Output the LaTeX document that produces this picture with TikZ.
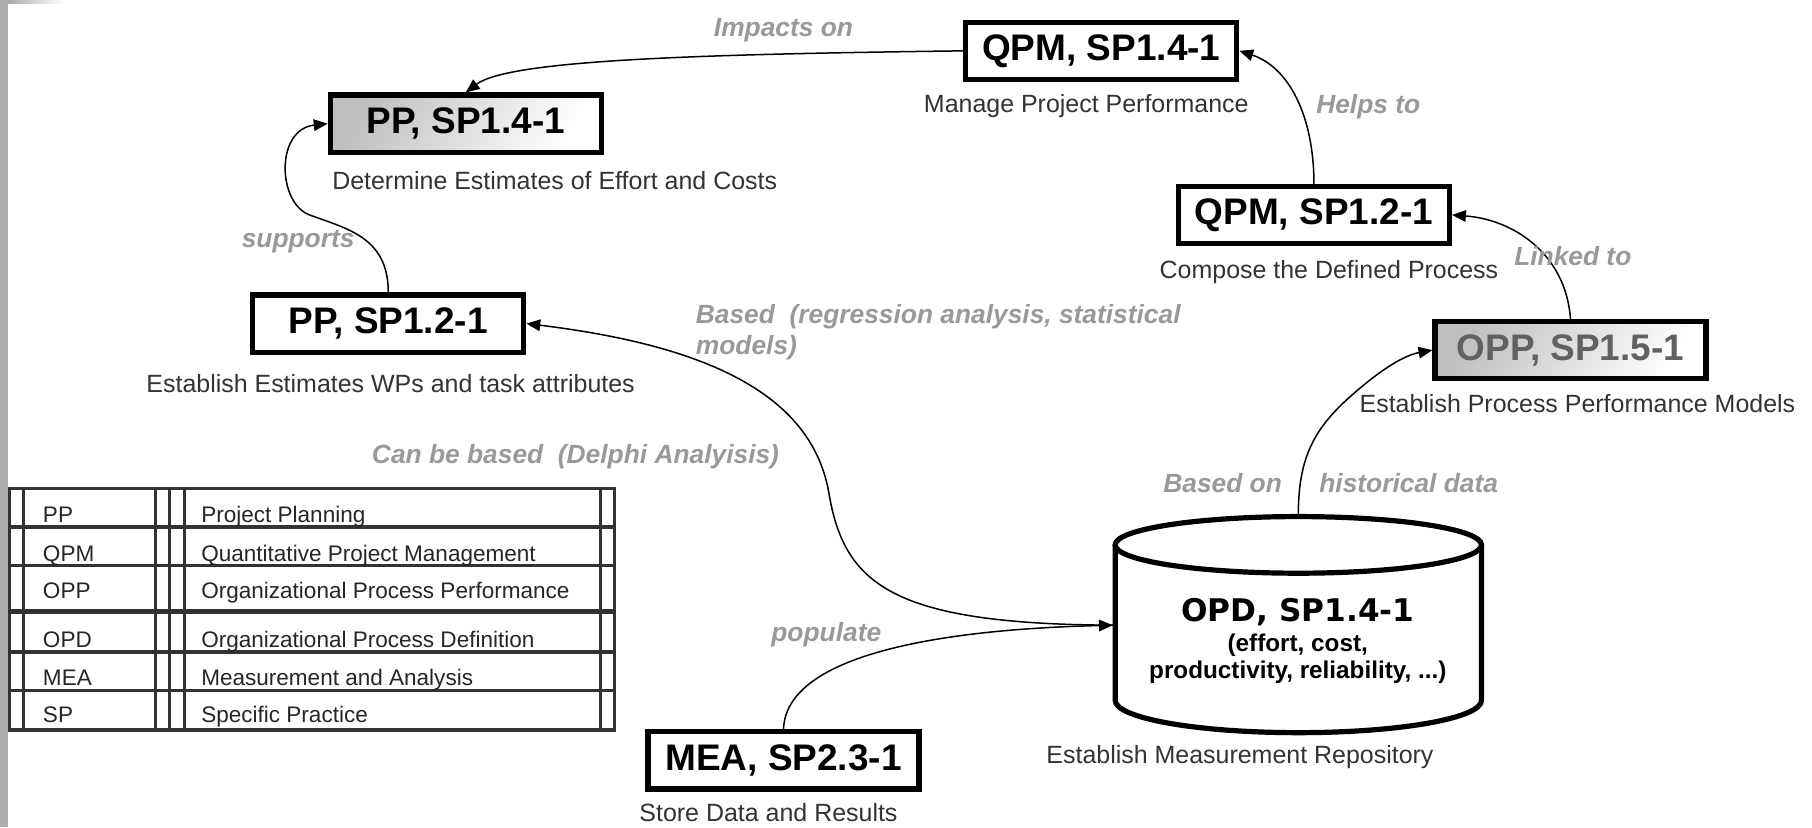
\documentclass[tikz,border=0pt]{standalone}
\usepackage{fontspec}
\setmainfont{Liberation Sans}
\newfontfamily\dejavu{DejaVu Sans}
\usetikzlibrary{arrows.meta}
\definecolor{stripgray}{RGB}{172,172,172}
\definecolor{tabline}{RGB}{50,50,50}
\begin{document}
\begin{tikzpicture}[x=1pt,y=-1pt,
  box/.style={draw, line width=4.5pt, minimum width=234.5pt, minimum height=49.5pt, inner sep=0pt, fill=white,
     font=\fontsize{32}{36}\selectfont\bfseries},
  shadedbox/.style={left color=gray!50, right color=white, shading angle=60},
  sub/.style={font=\fontsize{21.6}{24}\selectfont, text=black!80, inner sep=0pt},
  elab/.style={font=\fontsize{22.8}{26}\selectfont\bfseries\itshape, text=black!40, inner sep=0pt},
  cyltext/.style={font=\fontsize{21}{24}\selectfont\bfseries, inner sep=0pt},
  conn/.style={line width=1.3pt, -{Triangle[length=12pt,width=10pt]}},
  tabl/.style={line width=2.5pt, draw=tabline},
  ttext/.style={font=\fontsize{19.5}{22}\selectfont, text=black!85, anchor=base west, inner sep=0pt}]
\useasboundingbox (0,0) rectangle (1568,716);
\fill[white] (0,0) rectangle (1568,716);
% left strip
\fill[stripgray] (0,0) rectangle (7,716);
\shade[left color=stripgray, right color=white] (7,0) rectangle (55,3);

% boxes
\node[box, shadedbox] (pp14) at (403,107) {PP, SP1.4-1};
\node[box] (qpm14) at (953,44) {QPM, SP1.4-1};
\node[box] (qpm12) at (1137,186) {QPM, SP1.2-1};
\node[box] (pp12) at (336,280) {PP, SP1.2-1};
\node[box, shadedbox, text=black!62] (opp15) at (1359,303) {OPP, SP1.5-1};
\node[box] (mea23) at (678,658) {MEA, SP2.3-1};

% captions
\node[sub] (pp14l) at (480,156) {Determine Estimates of Effort and Costs};
\node[sub] (qpm14l) at (940,92) {Manage Project Performance};
\node[sub] (qpm12l) at (1150,235) {Compose the Defined Process};
\node[sub] (pp12l) at (338,332) {Establish Estimates WPs and task attributes};
\node[sub] (opp15l) at (1365,349) {Establish Process Performance Models};
\node[sub] (mea23l) at (665,703) {Store Data and Results};
\node[sub] (opdl) at (1073,655) {Establish Measurement Repository};

% cylinder
\path[fill=white, draw, line width=4.5pt] (965,471.5) -- (965,606)
  .. controls (965,621.5) and (1036,634) .. (1123.5,634)
  .. controls (1211,634) and (1282,621.5) .. (1282,606) -- (1282,471.5);
\draw[fill=white, line width=4.5pt] (1123.5,471.5) ellipse [x radius=158.5pt, y radius=24.5pt];
\node[font={\dejavu\bfseries\fontsize{27}{30}\selectfont}, inner sep=0pt] (opd) at (1123,530) {OPD, SP1.4-1};
\node[cyltext] (opd2) at (1123,558) {(effort, cost,};
\node[cyltext] (opd3) at (1123,581.5) {productivity, reliability, ...)};
\coordinate (cylW) at (963,541);
\coordinate (cylN) at (1123.5,445);

% connectors
\draw[conn] (qpm14.west) .. controls (600,47) and (440,52) .. (pp14.north);
\draw[conn] (pp12.north) .. controls (336,205) and (300,198) .. (268,186)
  .. controls (240,176) and (238,112) .. (pp14.west);
\draw[conn] (qpm12.north) .. controls (1137,100) and (1115,58) .. (qpm14.east);
\draw[conn] (opp15.north) .. controls (1355,220) and (1310,190) .. (qpm12.east);
\draw[conn] (cylN) .. controls (1123.5,400) and (1135,375) .. (1162,349)
  .. controls (1188,325) and (1212,308) .. (opp15.west);
\draw[conn] (cylW) .. controls (770,540) and (730,505) .. (717,425)
  .. controls (702,345) and (620,300) .. (pp12.east);
\draw[conn] (mea23.north) .. controls (680,570) and (800,545) .. (cylW);

% edge labels
\node[elab] (limp) at (678,26) {Impacts on};
\node[elab] (lsup) at (258,209) {supports};
\node[elab] (lhelp) at (1184,92) {Helps to};
\node[elab] (llink) at (1361,222) {Linked to};
\node[elab] (lbon) at (1058,418) {Based on};
\node[elab] (lhist) at (1219,418) {historical data};
\node[elab] (lpop) at (715,549) {populate};
\node[elab, anchor=west] (lreg1) at (602,274) {Based~~(regression analysis, statistical};
\node[elab, anchor=west] (lreg2) at (602,301) {models)};
\node[elab] (ldel) at (498,395) {Can be based~~(Delphi Analyisis)};

% legend table
\foreach \xx in {8.5,20.5,134.5,146.5,159.5,519.5,531.5}
  \draw[tabl] (\xx,421) -- (\xx,633);
\foreach \yy in {422.5,456,489.5,564,597.5,631.5}
  \draw[tabl, line width=3pt] (7,\yy) -- (533,\yy);
\draw[tabl, line width=4.5pt] (7,529) -- (533,529);
\node[ttext] (t1a) at (37,452) {PP};
\node[ttext] (t1b) at (174,452) {Project Planning};
\node[ttext] (t2a) at (37,486) {QPM};
\node[ttext] (t2b) at (174,486) {Quantitative Project Management};
\node[ttext] (t3a) at (37,518) {OPP};
\node[ttext] (t3b) at (174,518) {Organizational Process Performance};
\node[ttext] (t4a) at (37,560) {OPD};
\node[ttext] (t4b) at (174,560) {Organizational Process Definition};
\node[ttext] (t5a) at (37,593) {MEA};
\node[ttext] (t5b) at (174,593) {Measurement and Analysis};
\node[ttext] (t6a) at (37,625) {SP};
\node[ttext] (t6b) at (174,625) {Specific Practice};
\end{tikzpicture}
\end{document}
